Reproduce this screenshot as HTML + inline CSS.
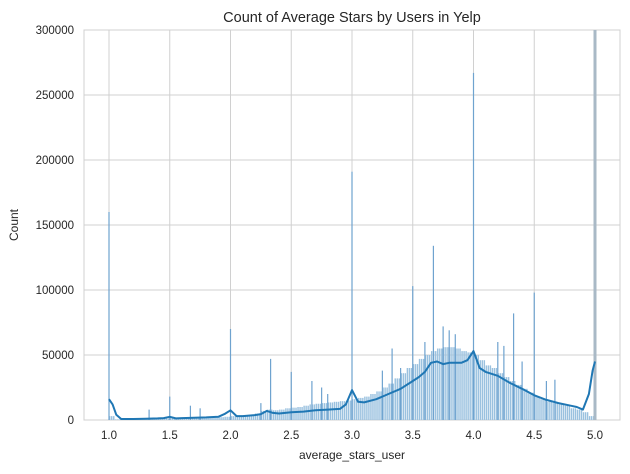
<!DOCTYPE html>
<html><head><meta charset="utf-8"><style>
body{margin:0;background:#fff;font-family:"Liberation Sans",sans-serif}
svg text{font-family:"Liberation Sans",sans-serif;fill:#262626}
</style></head><body>
<svg id="chart" width="630" height="469" xmlns="http://www.w3.org/2000/svg">
<text x="352" y="22" font-size="14.5" text-anchor="middle">Count of Average Stars by Users in Yelp</text>
<text x="352" y="459" font-size="12" text-anchor="middle">average_stars_user</text>
<text x="18" y="225" font-size="12" text-anchor="middle" transform="rotate(-90 18 225)">Count</text>
<g id="grid"></g><g id="bars"></g><g id="kde"></g><g id="ticks"></g>
</svg>
<script>
const xTicks=[1.0,1.5,2.0,2.5,3.0,3.5,4.0,4.5,5.0];
const yTicks=[0,50000,100000,150000,200000,250000,300000];
const bgX=[1.0,1.05,1.1,1.15,1.2,1.25,1.3,1.35,1.4,1.45,1.5,1.55,1.6,1.65,1.7,1.75,1.8,1.85,1.9,1.95,2.0,2.05,2.1,2.15,2.2,2.25,2.3,2.35,2.4,2.45,2.5,2.55,2.6,2.65,2.7,2.75,2.8,2.85,2.9,2.95,3.0,3.05,3.1,3.15,3.2,3.25,3.3,3.35,3.4,3.45,3.5,3.55,3.6,3.65,3.7,3.75,3.8,3.85,3.9,3.95,4.0,4.05,4.1,4.15,4.2,4.25,4.3,4.35,4.4,4.45,4.5,4.55,4.6,4.65,4.7,4.75,4.8,4.85,4.9,4.95];
const bgY=[3000,500,500,500,800,800,1000,1000,1000,1200,1500,1200,1500,1500,1800,2000,2000,2000,2200,2500,3000,3000,3500,4000,5000,7000,8000,7500,8000,9000,9500,10000,11000,12000,12500,13000,13500,14000,14500,15000,16000,17000,18000,20000,22000,25000,28000,32000,36000,40000,43000,47000,50000,53000,55000,56000,56000,55000,53000,52000,50000,46000,42000,40000,36000,33000,30000,27000,24000,21000,18000,16000,14000,13000,12000,11000,9000,8000,6000,3000];
const spikeX=[1.0,1.33,1.5,1.67,1.75,2.0,2.25,2.33,2.5,2.67,2.75,2.8,3.0,3.25,3.33,3.4,3.5,3.6,3.67,3.75,3.8,3.85,4.0,4.2,4.25,4.33,4.4,4.5,4.6,4.67];
const spikeY=[160000,8000,18000,11000,9000,70000,13000,47000,37000,30000,25000,20000,191000,38000,55000,40000,103000,60000,134000,72000,69000,66000,267000,60000,57000,82000,45000,98000,30000,31000];
const kdeX=[1.0,1.03,1.06,1.1,1.2,1.3,1.4,1.45,1.5,1.55,1.6,1.7,1.8,1.9,1.95,2.0,2.05,2.1,2.2,2.25,2.3,2.35,2.4,2.5,2.6,2.7,2.8,2.9,2.95,3.0,3.05,3.1,3.2,3.3,3.4,3.45,3.5,3.55,3.6,3.65,3.7,3.75,3.8,3.9,3.95,4.0,4.05,4.1,4.2,4.3,4.4,4.5,4.6,4.7,4.8,4.85,4.9,4.95,4.98,5.0];
const kdeY=[16000,12000,4000,800,800,1000,1200,1500,2500,1200,1500,1800,2000,2500,4500,7500,3000,3000,3800,4500,7000,5500,5000,6000,6500,7500,8000,8500,12000,23000,14000,13500,16000,20000,24000,27000,30000,33000,37000,44000,45000,43000,44000,44000,46000,53000,40000,37000,34000,28500,24000,19000,15500,13000,11000,10000,8000,20000,38000,45000];
const L=84,R=620,T=30,B=420;
const xs=v=>109+(v-1)*121.5;
const ys=v=>B-(v/300000)*(B-T);
const NS='http://www.w3.org/2000/svg';
function mk(tag,attrs,parent){const e=document.createElementNS(NS,tag);for(const k in attrs)e.setAttribute(k,attrs[k]);parent.appendChild(e);return e;}
const grid=document.getElementById('grid'),ticks=document.getElementById('ticks'),bars=document.getElementById('bars'),kde=document.getElementById('kde');
xTicks.forEach(t=>{const l=mk('line',{x1:xs(t),x2:xs(t),y1:T,y2:B,stroke:'#d0d0d0','stroke-width':1},grid);


const tx=mk('text',{x:xs(t),y:B+19,'font-size':11.5,'text-anchor':'middle'},ticks);tx.textContent=t.toFixed(1);

});
yTicks.forEach(t=>{const l=mk('line',{x1:L,x2:R,y1:ys(t),y2:ys(t),stroke:'#d0d0d0','stroke-width':1},grid);


const tx=mk('text',{x:L-10,y:ys(t)+4,'font-size':11.5,'text-anchor':'end'},ticks);tx.textContent=t;

});
mk('rect',{x:L,y:T,width:R-L,height:B-T,fill:'none',stroke:'#d0d0d0'},grid);
const w=0.05*121.5;
bgX.forEach((x,i)=>{for(let k=0;k<3;k++){const r=mk('rect',{x:xs(x)+k*w/3,y:ys(bgY[i]),width:w/3-0.6,height:B-ys(bgY[i]),fill:'#9ac1df'},bars);

}});
spikeX.forEach((x,i)=>{const r=mk('rect',{x:xs(x)-0.6,y:ys(spikeY[i]),width:1.2,height:B-ys(spikeY[i]),fill:'#6fa3cf'},bars);

});
const last=mk('rect',{x:xs(5)-1.5,y:T,width:3,height:B-T,fill:'#a9b9c6'},bars);


let d='';kdeX.forEach((x,i)=>{d+=(i?'L':'M')+xs(x).toFixed(1)+','+ys(kdeY[i]).toFixed(1);});
const p=mk('path',{d:d,fill:'none',stroke:'#1f77b4','stroke-width':2,'stroke-linejoin':'round'},kde);


</script>
</body></html>
